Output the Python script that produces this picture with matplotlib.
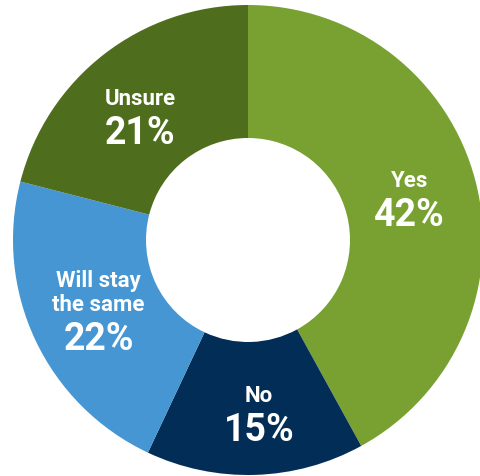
import numpy as np
import matplotlib.pyplot as plt

# Data
labels = ['Yes', 'No', 'Will stay\nthe same', 'Unsure']
shares = [42, 15, 22, 21]
colors = ['#78a132', '#022d56', '#4596d2', '#4f6e1d']

W, H = 480, 476
cx, cy, radius = 248, H - 240, 235
hole = 102

fig = plt.figure(figsize=(W / 100, H / 100), dpi=100)
ax = fig.add_axes([0, 0, 1, 1])
wedges, _ = ax.pie(shares, colors=colors, startangle=90, counterclock=False,
                   center=(cx, cy), radius=radius,
                   wedgeprops=dict(width=radius - hole, linewidth=0))
ax.set_xlim(0, W)
ax.set_ylim(0, H)
ax.set_aspect('equal')
ax.axis('off')

font = dict(family=['Roboto', 'DejaVu Sans'], weight='bold', color='white')
for w, name, s in zip(wedges, labels, shares):
    mid = np.deg2rad((w.theta1 + w.theta2) / 2 + 2)
    x = cx + 168 * np.cos(mid)
    y = cy + 168 * np.sin(mid)
    ax.annotate(name, (x, y), xytext=(0, 6), textcoords='offset pixels',
                ha='center', va='baseline', fontsize=16, linespacing=1.1, **font)
    ax.annotate(f'{s}%', (x, y), xytext=(0, -4), textcoords='offset pixels',
                ha='center', va='top', fontsize=27, **font)

fig.savefig('out.png', dpi=100)
